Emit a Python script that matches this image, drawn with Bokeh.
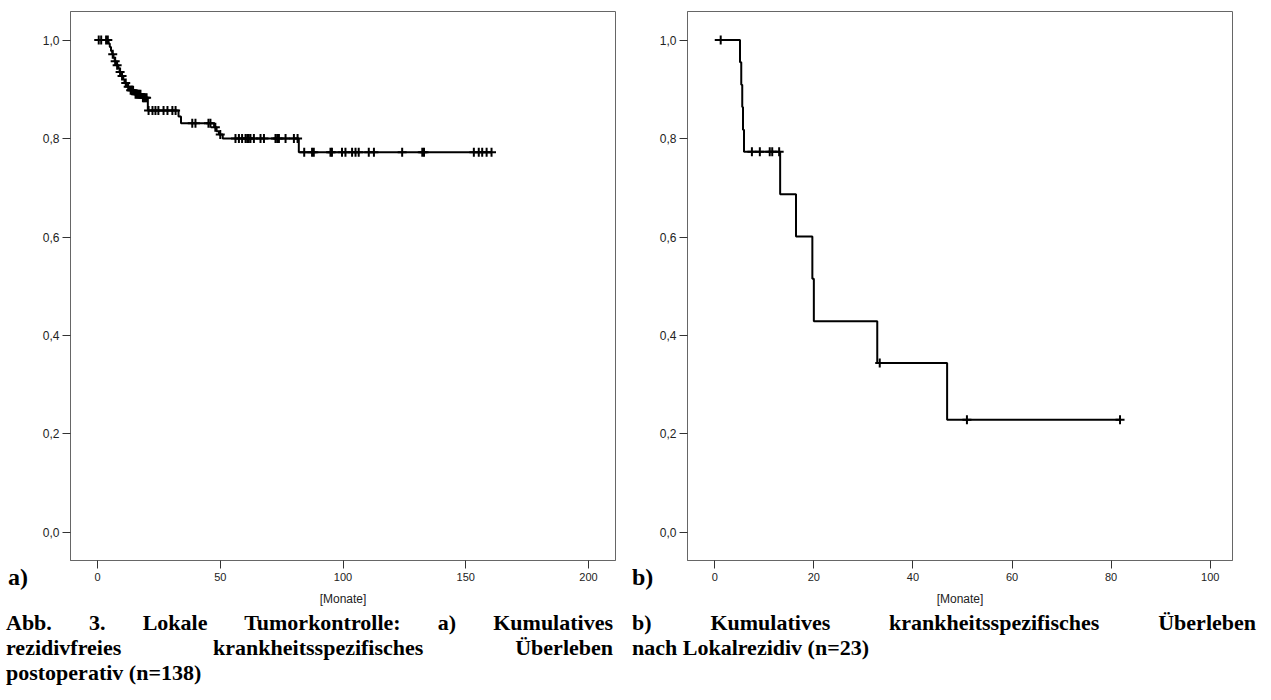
import numpy as np
from bokeh.plotting import figure
from bokeh.models import FixedTicker, Div, CustomJSTickFormatter
from bokeh.layouts import row, column
from bokeh.embed import file_html
from bokeh.resources import INLINE

# ---------------- data ----------------
# Panel a): Kaplan-Meier step curve (time in months, survival after step)
a_event_t = [0, 4.5, 5, 5.5, 6, 6.5, 7, 7.5, 8.5, 9, 9.5, 10.5, 11, 12, 13, 15, 18,
             20.5, 33, 34, 47.5, 48.5, 49.5, 51, 82, 160.5]
a_event_s = [1.0, 0.993, 0.986, 0.978, 0.971, 0.964, 0.957, 0.949, 0.942, 0.935, 0.927,
             0.920, 0.913, 0.905, 0.898, 0.890, 0.883, 0.857, 0.845, 0.831, 0.823, 0.815,
             0.808, 0.800, 0.772, 0.772]
a_censor_t = [0.5, 1.5, 3.5, 4.2, 6.2, 7.2, 8, 9.2, 10, 11.5, 12.5, 13.5, 14, 14.5, 15.5,
              16, 16.5, 17, 17.5, 18.5, 19, 19.5, 20, 20.8, 22.4, 23.6, 24.8, 26.9, 28.5,
              30.5, 31.8, 38.6, 39.9, 45.2, 46, 48, 50, 56.2, 57.6, 58.9, 60.3, 61, 61.6,
              62.3, 63.7, 66.4, 67.8, 72.5, 73.2, 73.9, 76.6, 80, 81.5, 84.2, 87.4, 88.1,
              94.9, 95.5, 99.6, 101, 103.7, 105.1, 106.4, 110.5, 112.6, 124.1, 132.3, 133,
              153.3, 155.3, 156.7, 158.5, 160.5]

# Panel b)
b_event_t = [0, 5.1, 5.35, 5.55, 5.7, 5.9, 13.2, 16.4, 19.7, 20.0, 32.8, 46.9, 81.8]
b_event_s = [1.0, 0.955, 0.909, 0.864, 0.818, 0.773, 0.687, 0.601, 0.515, 0.429, 0.344,
             0.229, 0.229]
b_censor_t = [1.2, 7.5, 9.1, 11.1, 11.6, 13.0, 33.3, 50.9, 81.8]

a_x_ticks = [0, 50, 100, 150, 200]
b_x_ticks = [0, 20, 40, 60, 80, 100]
y_ticks = [0.0, 0.2, 0.4, 0.6, 0.8, 1.0]
y_tick_labels = ["0,0", "0,2", "0,4", "0,6", "0,8", "1,0"]

x_label = "[Monate]"
panel_tags = ["a)", "b)"]
caption_a = ["Abb. 3. Lokale Tumorkontrolle: a) Kumulatives",
             "rezidivfreies krankheitsspezifisches Überleben",
             "postoperativ (n=138)"]
caption_b = ["b) Kumulatives krankheitsspezifisches Überleben",
             "nach Lokalrezidiv (n=23)"]


def censor_levels(ev_t, ev_s, c_t):
    idx = np.searchsorted(np.array(ev_t), np.array(c_t), side="right") - 1
    return list(np.array(ev_s)[idx])


SANS = "Liberation Sans"
SERIF = "Liberation Serif"


def make_panel(ev_t, ev_s, c_t, x_range, x_ticks, left_border, right_border):
    p = figure(frame_width=545, frame_height=549, x_range=x_range, y_range=(-0.057, 1.058),
               output_backend="svg", toolbar_location=None,
               min_border_left=left_border, min_border_right=right_border,
               min_border_top=11, min_border_bottom=50)
    p.background_fill_color = "white"
    p.border_fill_color = "white"
    p.outline_line_color = "#666666"
    p.outline_line_width = 1
    p.xgrid.visible = False
    p.ygrid.visible = False

    p.step(ev_t, ev_s, mode="after", line_color="black", line_width=2)
    p.scatter(c_t, censor_levels(ev_t, ev_s, c_t), marker="cross", size=9,
              line_color="black", line_width=2)

    for ax in (p.xaxis[0], p.yaxis[0]):
        ax.axis_line_color = "#666666"
        ax.major_tick_line_color = "#333333"
        ax.major_tick_out = 8
        ax.major_tick_in = 0
        ax.minor_tick_line_color = None
        ax.major_label_text_font = SANS
        ax.major_label_text_font_size = "11px"
        ax.major_label_text_color = "#222222"

    p.xaxis.ticker = FixedTicker(ticks=x_ticks)
    p.xaxis.major_label_standoff = 4
    p.xaxis.axis_label = x_label
    p.xaxis.axis_label_text_font = SANS
    p.xaxis.axis_label_text_font_size = "12px"
    p.xaxis.axis_label_text_font_style = "normal"
    p.xaxis.axis_label_text_color = "#222222"
    p.xaxis.axis_label_standoff = 8

    p.yaxis.ticker = FixedTicker(ticks=y_ticks)
    p.yaxis.major_label_text_font_size = "12px"
    p.yaxis.major_label_standoff = 3
    p.yaxis.formatter = CustomJSTickFormatter(
        args=dict(tvals=y_ticks, tlabels=y_tick_labels),
        code="""
        let best = 0;
        for (let i = 0; i < tvals.length; i++) {
            if (Math.abs(tvals[i] - tick) < Math.abs(tvals[best] - tick)) best = i;
        }
        return tlabels[best];
        """)
    return p


def tag_div(tag, width, pad_left):
    html = (f'<div style="padding-top:565px;padding-left:{pad_left}px;font-family:\'{SERIF}\';'
            f'font-weight:bold;font-size:24px;line-height:24px;color:#000;'
            f'white-space:nowrap;">{tag}</div>')
    return Div(text=html, width=width, height=610, margin=(0, 0, 0, 0))


p1 = make_panel(a_event_t, a_event_s, a_censor_t, (-11, 211), a_x_ticks, 34, 1)
p2 = make_panel(b_event_t, b_event_s, b_censor_t, (-5.5, 104.5), b_x_ticks, 30, 40)

ta = tag_div(panel_tags[0], 36, 8)
tb = tag_div(panel_tags[1], 40, 16)


def caption_html(lines, left, width):
    parts = []
    for i, ln in enumerate(lines):
        last = (i == len(lines) - 1)
        if last:
            parts.append(f'<div style="text-align:left;white-space:nowrap;">{ln}</div>')
        else:
            parts.append(f'<div style="text-align:justify;text-align-last:justify;">{ln}</div>')
    return (f'<div style="margin-left:{left}px;width:{width}px;font-family:\'{SERIF}\';'
            f'font-weight:bold;font-size:22px;line-height:25px;color:#000;">'
            + "".join(parts) + "</div>")


d1 = Div(text=caption_html(caption_a, 6, 607), width=630, height=90, margin=(0, 0, 0, 0))
d2 = Div(text=caption_html(caption_b, 2, 624), width=641, height=90, margin=(0, 0, 0, 0))

layout = column(row(ta, p1, tb, p2), row(d1, d2))

with open("out.html", "w") as f:
    f.write(file_html(layout, INLINE))
